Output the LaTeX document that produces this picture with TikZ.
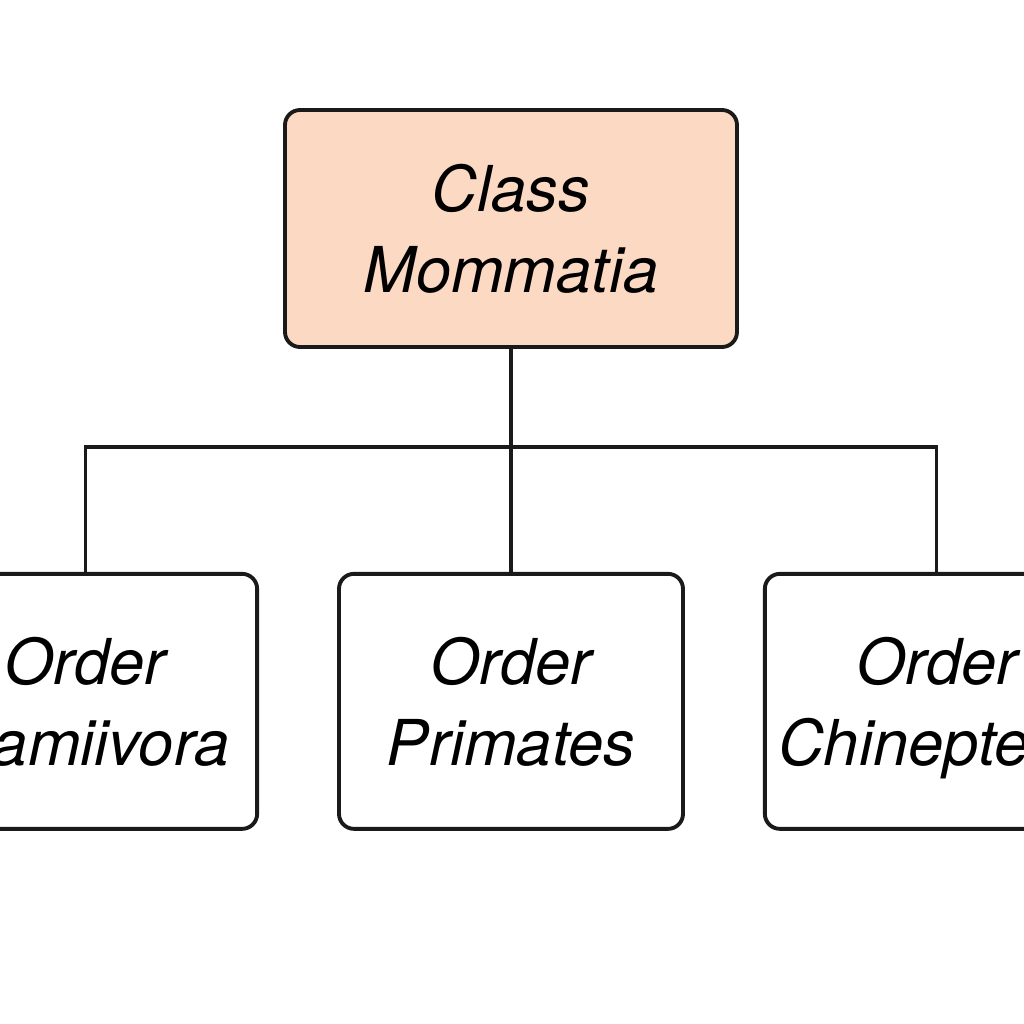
\documentclass[tikz,border=0pt]{standalone}
\usepackage{fontspec}
\setmainfont{TeX Gyre Heros}
\usepackage{xcolor}
\usepackage{tikz}
\usetikzlibrary{positioning}

\definecolor{peach}{HTML}{FCD9C3}
\definecolor{edge}{HTML}{1A1A1A}

\tikzset{
    taxbox/.style={draw=edge, line width=1.1pt, rounded corners=0.15cm, align=center},
    classbox/.style={taxbox, fill=peach, minimum width=4.52cm, minimum height=2.37cm},
    orderbox/.style={taxbox, minimum width=3.44cm, minimum height=2.55cm, text depth=0pt},
    link/.style={draw=edge, line width=0.9pt}
}

\begin{document}
\begin{tikzpicture}[node distance=2.23cm and 0.78cm, every node/.style={font=\fontsize{18}{23}\selectfont\itshape}]
    \path[use as bounding box, clip] (0,0) rectangle (10.24,10.24);

    % Class
    \node[classbox] (cls) at (5.11,7.955) {Class\\Mommatia};

    % Orders
    \node[orderbox, below=of cls] (prim) {Order\\Primates};
    \node[orderbox, left=of prim] (carn) {Order\\\hspace*{0.52cm}amiivora};
    \node[orderbox, right=of prim] (chir) {Order\\Chinepte\hspace*{0.66cm}};

    % Lines
    \coordinate (bus) at (5.13,5.77);
    \draw[link] (cls.south) -- (prim.north);
    \draw[link] (carn.north) |- (bus) -| (chir.north);
\end{tikzpicture}
\end{document}
